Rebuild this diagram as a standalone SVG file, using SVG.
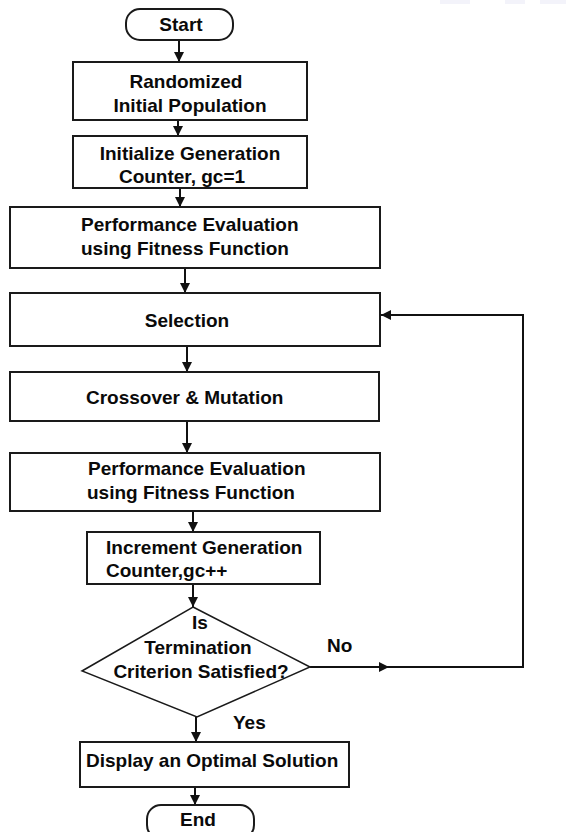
<svg xmlns="http://www.w3.org/2000/svg" width="566" height="832" viewBox="0 0 566 832">
<style>
  .box { fill: #ffffff; stroke: #1a1a1a; stroke-width: 2; }
  .dia { fill: #ffffff; stroke: #1a1a1a; stroke-width: 1.5; }
  .t { font-family: "Liberation Sans", Arial, sans-serif; font-weight: bold; font-size: 19px; fill: #0a0a0a; }
  .c { text-anchor: middle; }
  .ln { fill: none; stroke: #111111; stroke-width: 2; }
</style>
<defs>
  <marker id="arr" viewBox="0 0 10 10" refX="10" refY="5" markerWidth="10" markerHeight="10" markerUnits="userSpaceOnUse" orient="auto">
    <path d="M0,0 L10,5 L0,10 Z" fill="#111111"/>
  </marker>
</defs>
<rect width="566" height="832" fill="#ffffff"/>
<g id="bg-noise" opacity="0.2">
  <rect x="440" y="0" width="30" height="4" fill="#c8c4e8"/>
  <rect x="505" y="0" width="20" height="4" fill="#c8c4e8"/>
  <rect x="540" y="0" width="26" height="4" fill="#c8c4e8"/>
</g>

<g id="connectors">
  <line class="ln" x1="179" y1="40" x2="179" y2="62" marker-end="url(#arr)"/>
  <line class="ln" x1="178" y1="120" x2="178" y2="136" marker-end="url(#arr)"/>
  <line class="ln" x1="180" y1="188" x2="180" y2="207" marker-end="url(#arr)"/>
  <line class="ln" x1="185" y1="268" x2="185" y2="293" marker-end="url(#arr)"/>
  <line class="ln" x1="187" y1="346" x2="187" y2="372" marker-end="url(#arr)"/>
  <line class="ln" x1="187" y1="421" x2="187" y2="453" marker-end="url(#arr)"/>
  <line class="ln" x1="193" y1="511" x2="193" y2="532" marker-end="url(#arr)"/>
  <line class="ln" x1="193" y1="584" x2="193" y2="607" marker-end="url(#arr)"/>
  <line class="ln" x1="196" y1="717" x2="196" y2="742" marker-end="url(#arr)"/>
  <line class="ln" x1="195" y1="787" x2="195" y2="805" marker-end="url(#arr)"/>
  <line class="ln" x1="310" y1="667" x2="389" y2="667" marker-end="url(#arr)"/>
  <polyline class="ln" points="389,667 523,667 523,315 381,315" marker-end="url(#arr)"/>
  <text class="t" x="327" y="652">No</text>
  <text class="t" x="233" y="729">Yes</text>
</g>

<g id="start">
  <rect class="box" x="126" y="9" width="107" height="31" rx="14" ry="14"/>
  <text class="t c" x="181" y="31">Start</text>
</g>
<g id="random-pop">
  <rect class="box" x="73" y="62" width="234" height="58"/>
  <text class="t c" x="186" y="88">Randomized</text>
  <text class="t c" x="190" y="112">Initial Population</text>
</g>
<g id="init-gc">
  <rect class="box" x="73" y="136" width="234" height="52"/>
  <text class="t c" x="190" y="160">Initialize Generation</text>
  <text class="t c" x="182" y="183">Counter, gc=1</text>
</g>
<g id="perf-eval-1">
  <rect class="box" x="10" y="207" width="370" height="61"/>
  <text class="t" x="81" y="231">Performance Evaluation</text>
  <text class="t" x="81" y="255">using Fitness Function</text>
</g>
<g id="selection">
  <rect class="box" x="10" y="293" width="370" height="53"/>
  <text class="t c" x="187" y="327">Selection</text>
</g>
<g id="crossover">
  <rect class="box" x="10" y="372" width="369" height="49"/>
  <text class="t" x="86" y="404">Crossover &amp; Mutation</text>
</g>
<g id="perf-eval-2">
  <rect class="box" x="10" y="453" width="370" height="58"/>
  <text class="t" x="88" y="475">Performance Evaluation</text>
  <text class="t" x="87" y="499">using Fitness Function</text>
</g>
<g id="inc-gc">
  <rect class="box" x="87" y="532" width="233" height="52"/>
  <text class="t" x="106" y="554">Increment Generation</text>
  <text class="t" x="106" y="577">Counter,gc++</text>
</g>
<g id="decision">
  <polygon class="dia" points="193,607 310,667 197,717 82,671"/>
  <text class="t c" x="200" y="629">Is</text>
  <text class="t c" x="198" y="654">Termination</text>
  <text class="t c" x="201" y="678">Criterion Satisfied?</text>
</g>
<g id="display">
  <rect class="box" x="80" y="742" width="269" height="45"/>
  <text class="t" x="86" y="767">Display an Optimal Solution</text>
</g>
<g id="end">
  <rect class="box" x="147" y="805" width="107" height="34" rx="14" ry="14"/>
  <text class="t c" x="198" y="826">End</text>
</g>
</svg>
